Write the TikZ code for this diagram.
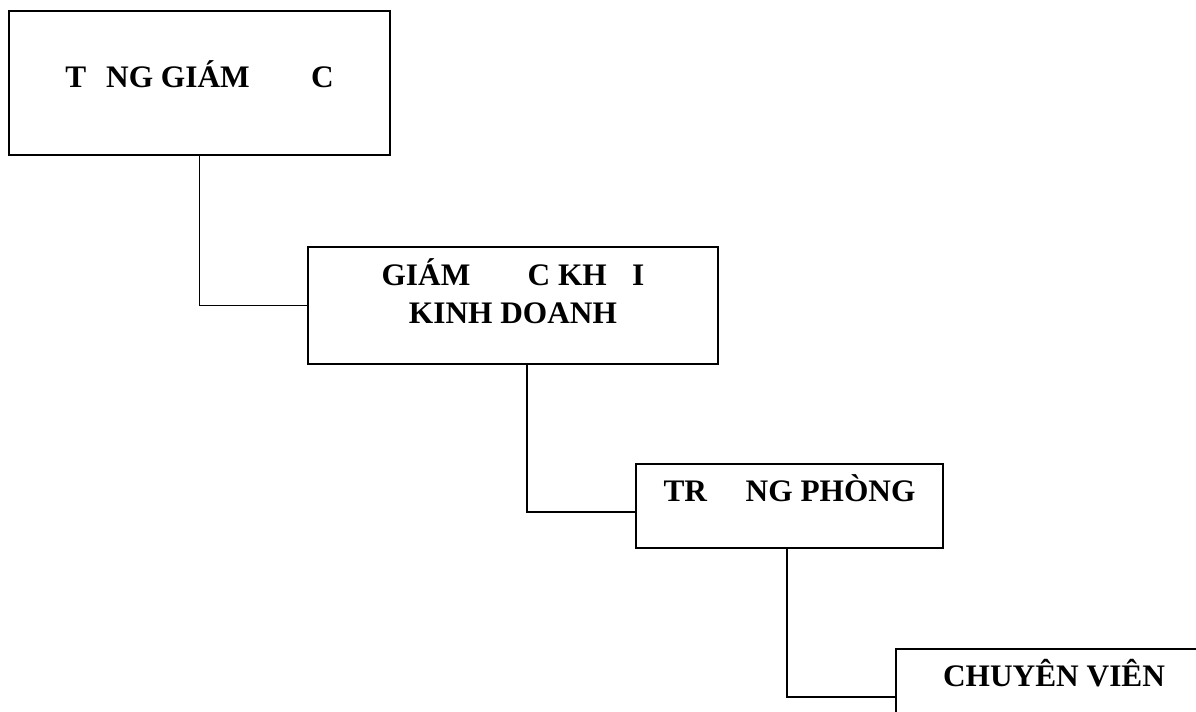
\documentclass[tikz,border=0pt]{standalone}
\usepackage{fontspec}
\setmainfont{Liberation Serif}
\tikzset{
  orgbox/.style={
    draw, rectangle, line width=1pt, inner sep=0pt,
    font=\bfseries\fontsize{23.5}{28.5}\selectfont, align=center
  },
  link/.style={
    draw, line width=1pt
  }
}

\begin{document}
\begin{tikzpicture}[x=0.75pt, y=-0.75pt]
  \clip[use as bounding box] (0,0) rectangle (1196,711);

  \node[orgbox, anchor=base, minimum width=285.75pt, text height=57pt, text depth=51pt] (tongGD) at (199.5,87) {T\hspace{15pt}NG GIÁM\hspace{46pt}C};
  \node[orgbox, anchor=base, minimum width=307.5pt, text height=57pt, text depth=30.75pt] (gdKhoi) at (513,323) {GIÁM\hspace{43pt}C KH\hspace{19pt}I\\KINH DOANH};
  \node[orgbox, anchor=base, minimum width=230.25pt, text height=27.75pt, text depth=35.25pt] (truongPhong) at (789.5,501) {TR\hspace{29pt}NG PHÒNG};
  \node[orgbox, anchor=base, minimum width=237pt, text height=27.75pt, text depth=35.25pt] (chuyenVien) at (1054,686) {CHUYÊN VIÊN};

  \draw[link] (tongGD.south) |- (gdKhoi.west);
  \draw[link] ([xshift=10.5pt]gdKhoi.south) |- ([yshift=-4.5pt]truongPhong.west);
  \draw[link] ([xshift=-2pt]truongPhong.south) |- ([yshift=-4.5pt]chuyenVien.west);
\end{tikzpicture}
\end{document}
